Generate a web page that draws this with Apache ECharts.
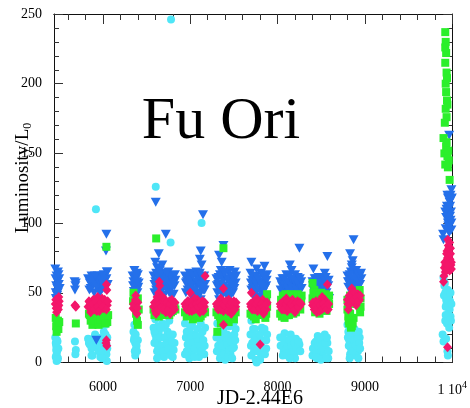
<!DOCTYPE html>
<html>
<head>
<meta charset="utf-8">
<script src="https://cdn.jsdelivr.net/npm/echarts@6/dist/echarts.min.js"></script>
<style>html,body{margin:0;padding:0;background:#fff;}#c{width:470px;height:408px;}</style>
</head>
<body>
<div id="c"></div>
<script>
// ---- data (JD-2.44E6, Luminosity/L0) ----
const blueTri = [
[5455,67],[5470,62],[5480,58],[5465,55],[5490,52],[5475,48],[5500,60],[5485,65],[5460,50],[5495,56],[5470,45],[5505,53],
[5458,60],[5478,53],[5492,63],[5462,46],[5483,50],
[5675,58],[5685,55],[5680,52],[5690,57],
[5830,60],[5850,57],[5870,62],[5860,53],[5880,55],[5900,50],[5920,58],[5940,62],[5955,55],[5970,60],[5985,52],[6000,57],[6010,63],[6025,55],[6040,60],[6050,65],[5890,61],[5965,50],[6040,92],[6035,80],[6045,65],[5925,16],
[5845,52],[5865,58],[5895,56],[5930,54],[5950,60],[5975,56],[5995,62],[6015,53],[6030,59],[6055,56],[5910,62],[5985,58],
[6340,62],[6350,58],[6360,66],[6370,55],[6380,60],[6390,52],[6400,63],[6410,57],[6365,48],[6395,50],[6385,64],
[6345,55],[6355,51],[6375,62],[6405,54],[6390,58],
[6605,115],[6720,92],[6640,78],[6600,72],[6620,68],[6680,70],[6650,66],
[6580,62],[6600,58],[6620,55],[6640,60],[6660,52],[6680,57],[6700,63],[6720,55],[6740,60],[6760,50],[6780,58],[6800,62],[6820,55],[6590,50],[6640,48],[6700,48],[6750,65],[6810,49],[6610,64],[6690,61],[6770,53],[6830,59],
[6590,56],[6610,52],[6630,62],[6650,58],[6670,55],[6690,53],[6710,58],[6730,52],[6750,56],[6770,62],[6790,54],[6810,57],[6825,63],[6660,64],[6730,64],[6790,48],
[7146,106],[7120,80],[7110,74],[7130,70],
[6940,62],[6960,58],[6980,55],[7000,61],[7020,52],[7040,57],[7060,63],[7080,55],[7100,60],[7120,50],[7140,58],[7160,62],[6950,50],[7010,48],[7070,65],[7150,52],[6990,64],[7090,49],[7170,56],[7120,45],
[6950,57],[6970,52],[6990,59],[7010,56],[7030,62],[7050,52],[7070,58],[7090,62],[7110,55],[7130,54],[7150,60],[7165,52],[7030,47],[7110,64],
[7380,84],[7330,77],[7360,72],
[7300,60],[7320,56],[7340,63],[7360,54],[7380,59],[7400,65],[7420,52],[7440,58],[7460,62],[7480,55],[7500,61],[7520,57],[7310,50],[7370,48],[7430,47],[7490,50],[7350,66],[7450,66],[7510,65],[7330,45],
[7305,55],[7325,61],[7345,52],[7365,60],[7385,55],[7405,50],[7425,60],[7445,53],[7465,56],[7485,61],[7505,53],[7525,62],[7390,64],[7470,49],
[7700,72],[7850,69],
[7690,64],[7710,59],[7730,55],[7750,62],[7770,52],[7790,57],[7810,64],[7830,50],[7850,60],[7870,55],[7880,63],[7720,48],[7760,67],[7800,47],[7840,58],[7700,52],[7860,46],
[7695,57],[7715,53],[7735,61],[7755,56],[7775,60],[7795,52],[7815,56],[7835,62],[7855,53],[7875,59],[7745,50],[7825,54],
[8250,82],[8140,70],[8160,66],
[8030,58],[8050,55],[8070,60],[8090,52],[8110,57],[8130,62],[8150,54],[8170,59],[8190,51],[8210,56],[8230,61],[8250,55],[8270,58],[8060,50],[8120,49],[8200,63],[8240,50],[8100,63],
[8035,52],[8055,60],[8075,55],[8095,58],[8115,53],[8135,56],[8155,60],[8175,53],[8195,58],[8215,52],[8235,56],[8255,60],[8275,53],[8140,50],
[8570,76],[8410,67],[8540,64],
[8400,58],[8420,54],[8440,60],[8460,51],[8480,56],[8500,59],[8520,53],[8540,57],[8560,50],[8580,55],[8430,48],[8490,47],[8550,61],[8590,46],[8410,52],[8470,61],
[8405,55],[8425,60],[8445,53],[8465,57],[8485,52],[8505,55],[8525,60],[8545,52],[8565,56],[8585,59],[8455,56],[8515,50],
[8870,88],[8830,78],[8860,73],[8850,70],
[8800,62],[8820,58],[8840,65],[8860,55],[8880,60],[8900,66],[8920,57],[8940,62],[8810,54],[8870,53],[8890,63],[8930,55],[8850,68],[8910,60],[8960,60],
[8805,58],[8825,63],[8845,56],[8865,60],[8885,56],[8905,58],[8925,63],[8945,56],[8955,64],[8835,55],[8895,54],
[9965,163],[9990,124],[9980,120],[9985,117],[9960,110],[9975,105],[9950,100],[9990,95],[9970,115],[9940,112],[9985,108],[9955,98],[9980,102],[9930,104],[9995,118],[9965,93],[9945,107],[9895,92],[9900,88],
[9925,96],[9935,110],[9950,118],[9960,104],[9970,98],[9975,112],[9990,100],[9945,120],[9920,108]
];
const redDia = [
[5460,45],[5475,42],[5490,38],[5470,36],[5500,44],[5485,40],[5465,39],[5495,47],
[5455,42],[5480,45],[5495,41],[5472,39],
[5680,41],[5690,40],
[5830,40],[5850,43],[5870,38],[5890,45],[5910,41],[5930,37],[5950,44],[5970,40],[5990,46],[6010,39],[6030,43],[6050,41],[5860,36],[5940,47],[6040,56],[6045,52],[6040,16],[6045,12],[6035,14],
[5840,44],[5860,40],[5880,42],[5900,38],[5920,44],[5940,40],[5960,37],[5980,43],[6000,40],[6020,45],[6040,38],[6055,44],
[6350,42],[6360,38],[6370,45],[6380,40],[6390,35],[6400,43],[6375,48],
[6345,39],[6365,41],[6385,44],[6395,39],
[6580,40],[6600,37],[6620,43],[6640,39],[6660,45],[6680,38],[6700,42],[6720,36],[6740,41],[6760,44],[6780,39],[6800,42],[6820,38],[6640,50],[6650,55],[6645,58],[6610,35],[6700,46],[6770,35],
[6590,43],[6610,41],[6630,38],[6650,42],[6670,40],[6690,44],[6710,39],[6730,43],[6750,38],[6770,42],[6790,45],[6810,40],[6825,43],[6620,47],[6680,47],
[6940,42],[6960,38],[6980,44],[7000,40],[7020,37],[7040,43],[7060,39],[7080,45],[7100,41],[7120,38],[7140,44],[7160,40],[7170,62],[7000,50],[7050,46],[7110,36],
[6950,40],[6970,44],[6990,37],[7010,43],[7030,41],[7050,38],[7070,42],[7090,40],[7110,43],[7130,41],[7150,37],[7165,43],
[7300,42],[7320,38],[7340,44],[7360,40],[7380,37],[7400,43],[7420,39],[7440,45],[7460,41],[7480,38],[7500,44],[7520,40],[7380,53],[7380,27],[7350,46],[7470,35],
[7310,40],[7330,43],[7350,38],[7370,42],[7390,41],[7410,44],[7430,37],[7450,41],[7470,43],[7490,40],[7510,38],[7525,43],
[7690,42],[7710,38],[7730,44],[7750,40],[7770,37],[7790,43],[7810,39],[7830,45],[7850,41],[7870,38],[7880,43],[7700,50],[7800,13],[7760,46],[7840,35],
[7695,40],[7715,43],[7735,38],[7755,42],[7775,44],[7795,39],[7815,42],[7835,40],[7855,38],[7875,42],
[8030,42],[8050,38],[8070,44],[8090,40],[8110,37],[8130,43],[8150,39],[8170,45],[8190,41],[8210,38],[8230,44],[8250,40],[8270,42],[8100,46],[8200,36],
[8035,40],[8055,43],[8075,38],[8095,42],[8115,44],[8135,39],[8155,42],[8175,40],[8195,38],[8215,43],[8235,40],[8255,43],
[8400,41],[8420,38],[8440,44],[8460,40],[8480,37],[8500,43],[8520,39],[8540,45],[8560,41],[8580,38],[8570,56],[8450,36],[8510,47],
[8405,43],[8425,40],[8445,38],[8465,43],[8485,41],[8505,38],[8525,42],[8545,40],[8565,38],[8585,42],
[8800,45],[8820,48],[8840,44],[8860,51],[8880,46],[8900,43],[8920,49],[8940,45],[8850,53],[8810,38],[8900,41],[8830,42],[8870,47],
[8805,42],[8825,45],[8845,48],[8865,45],[8885,50],[8905,47],[8925,44],[8945,48],
[9900,58],[9910,68],[9920,65],[9930,72],[9940,80],[9950,88],[9955,84],[9960,76],[9965,70],[9970,66],[9975,74],[9980,82],[9985,70],[9990,67],[9945,68],[9935,78],[9925,70],[9946,11],
[9905,62],[9915,72],[9930,66],[9945,75],[9960,82],[9970,86],[9980,78],[9990,72],[9950,70]
];
const greenSq = [
[5460,32],[5475,28],[5490,24],[5470,22],[5485,30],[5465,26],[5500,29],
[5690,28],
[5840,35],[5860,30],[5880,27],[5900,33],[5920,37],[5940,31],[5960,28],[5980,34],[6000,30],[6020,36],[6040,32],[6050,29],[5870,38],[6040,83],
[5850,34],[5890,30],[5930,34],[5950,27],[5970,31],[6010,33],[6030,28],[6060,34],
[6350,50],[6360,45],[6370,40],[6380,35],[6390,30],[6400,27],[6410,38],[6345,44],[6400,46],
[6580,38],[6600,36],[6700,35],[6800,37],[6820,40],[6610,89],[6640,33],[6760,34],
[6620,36],[6660,35],[6720,34],[6780,36],[6830,38],[6590,34],
[6940,36],[6980,34],[7060,33],[7100,32],[7140,35],[7160,38],[7030,31],
[6960,33],[7000,35],[7080,34],[7120,33],[7170,36],
[7300,36],[7340,33],[7380,82],[7400,31],[7440,29],[7480,33],[7520,36],[7310,22],[7360,30],[7460,34],
[7320,34],[7420,32],[7500,31],[7350,28],[7440,34],
[7690,35],[7730,33],[7770,36],[7810,34],[7850,40],[7870,45],[7880,49],[7860,32],[7750,31],
[7710,34],[7790,35],[7830,37],[7880,40],[7870,35],
[8030,35],[8060,48],[8100,47],[8150,49],[8200,48],[8240,47],[8270,44],[8050,33],[8130,34],[8210,36],[8260,38],[8080,32],
[8040,45],[8090,49],[8170,48],[8230,49],[8275,48],[8180,35],[8110,34],
[8400,57],[8420,52],[8400,46],[8450,50],[8500,50],[8550,49],[8590,48],[8430,36],[8480,35],[8560,37],
[8410,50],[8480,48],[8530,47],[8580,45],[8420,42],[8590,42],
[8800,38],[8810,33],[8820,28],[8830,35],[8850,26],[8870,32],[8900,42],[8930,48],[8940,52],[8920,46],[8800,45],[8950,40],
[8810,42],[8830,48],[8815,30],[8840,25],[8860,28],[8950,46],[8945,36],
[9920,237],[9925,230],[9930,222],[9920,215],[9935,208],[9925,200],[9940,204],[9920,226],[9930,194],[9940,188],[9925,182],[9935,176],[9915,172],[9945,185],[9900,161],[9910,150],[9930,155],[9945,148],[9960,145],[9950,140],[9920,142],[9970,131],[9935,158],[9955,152]
];
const cyanCirc = [
[5455,18],[5465,12],[5475,8],[5460,4],[5470,1],[5480,15],[5490,10],[5470,6],[5485,3],
[5460,14],[5475,16],[5465,9],[5480,2],
[5680,15],[5690,9],[5685,6],
[5830,17],[5850,13],[5870,10],[5890,16],[5910,20],[5930,12],[5950,8],[5970,4],[5990,14],[6010,22],[6030,27],[6050,18],[6040,6],[6045,1],[5920,110],[5960,29],[6000,10],[5880,5],
[5840,14],[5860,16],[5880,12],[5900,18],[5920,15],[5940,18],[5960,12],[5980,8],[6000,18],[6020,14],[6030,20],[6050,10],[6040,13],[5870,5],[5990,3],
[6350,22],[6360,18],[6370,14],[6380,10],[6390,8],[6360,27],[6400,16],[6370,5],
[6355,16],[6375,20],[6385,12],[6365,8],
[6780,246],[6605,126],[6775,86],[6580,25],[6600,20],[6620,15],[6640,10],[6660,5],[6680,18],[6700,12],[6720,8],[6740,22],[6760,16],[6780,10],[6800,4],[6820,14],[6600,31],[6680,28],[6760,30],[6620,8],[6700,25],[6800,20],[6640,22],
[6590,22],[6610,17],[6630,12],[6650,18],[6670,12],[6690,8],[6710,18],[6730,14],[6750,10],[6770,20],[6790,15],[6810,9],[6630,26],[6720,27],[6590,14],[6660,25],[6780,5],[6700,4],[6620,3],
[7130,100],[6940,28],[6960,22],[6980,17],[7000,12],[7020,7],[7040,20],[7060,14],[7080,9],[7100,4],[7120,18],[7140,11],[7160,6],[7170,25],[6960,8],[7000,25],[7080,24],[7140,22],[6990,3],
[6950,18],[6970,13],[6990,22],[7010,18],[7030,14],[7050,10],[7070,19],[7090,15],[7110,12],[7130,8],[7150,16],[7165,12],[6940,6],[7050,4],[7020,27],[7120,28],
[7300,18],[7320,12],[7340,7],[7360,22],[7380,15],[7400,9],[7420,20],[7440,14],[7460,6],[7480,19],[7500,11],[7520,24],[7310,28],[7450,26],[7340,3],[7400,2],[7500,29],
[7305,8],[7325,20],[7345,16],[7365,12],[7385,6],[7405,18],[7425,13],[7445,9],[7465,15],[7485,10],[7505,20],[7515,16],[7380,24],[7430,4],[7480,3],
[7700,30],[7690,20],[7710,14],[7730,8],[7750,2],[7770,18],[7790,12],[7810,6],[7830,22],[7850,16],[7870,10],[7880,20],[7720,24],[7760,0],[7820,25],[7700,5],
[7695,12],[7715,20],[7735,16],[7755,12],[7775,8],[7795,20],[7815,15],[7835,10],[7855,6],[7870,16],[7740,24],[7800,2],[7850,24],
[8030,18],[8050,12],[8070,8],[8090,15],[8110,5],[8130,10],[8150,20],[8170,14],[8190,6],[8210,17],[8230,9],[8250,13],[8080,21],[8200,3],[8120,16],
[8035,12],[8055,18],[8075,14],[8095,9],[8115,12],[8135,16],[8155,12],[8175,8],[8195,14],[8215,10],[8240,15],[8260,8],[8140,3],[8060,5],
[8400,5],[8420,10],[8440,15],[8460,19],[8480,12],[8500,6],[8520,16],[8540,20],[8560,9],[8580,3],[8450,3],[8530,8],[8570,14],
[8405,10],[8425,14],[8445,8],[8465,12],[8485,16],[8505,12],[8525,10],[8545,14],[8565,18],[8585,8],[8435,4],[8495,2],[8555,3],
[8800,27],[8810,22],[8820,16],[8840,10],[8860,20],[8880,24],[8900,14],[8920,8],[8940,18],[8830,6],[8890,5],[8930,22],[8850,15],
[8805,18],[8815,12],[8835,20],[8855,8],[8875,16],[8895,12],[8915,18],[8935,14],[8945,10],[8865,24],[8905,22],[8825,3],[8925,3],
[9900,61],[9910,55],[9920,50],[9930,45],[9940,40],[9950,52],[9960,47],[9970,38],[9980,33],[9920,30],[9940,28],[9955,35],[9965,25],[9935,42],[9975,44],[9985,30],[9890,20],[9900,15],[9930,17],[9945,8],[9950,5],[9915,57],
[9905,48],[9925,40],[9935,52],[9945,46],[9960,40],[9970,30],[9980,50],[9990,42],[9925,34],[9950,30]
];
const xMajorTicks = [6000,7000,8000,9000,10000];
const xMinorTicks = [5600,5800,6200,6400,6600,6800,7200,7400,7600,7800,8200,8400,8600,8800,9200,9400,9600,9800];
const xRange = [5440, 10000];
const yRange = [0, 250];

const FONT = '"Liberation Serif","DejaVu Serif",serif';
const AX = '#111';
function xAx(pos, ticks, len, labels) {
  return {
    type:'value', position:pos, min:xRange[0], max:xRange[1],
    axisLine:{show:true, onZero:false, lineStyle:{color:AX, width:1}},
    axisTick:{show:true, inside:true, length:len, customValues:ticks, lineStyle:{color:'#333', width:1}},
    axisLabel: labels ? {show:true, customValues:ticks, margin:18, fontFamily:FONT, fontSize:14, color:'#000',
      formatter:function(v){ return v===10000 ? '{a|1 10}{s|4}' : String(v); },
      rich:{a:{fontFamily:FONT, fontSize:14, color:'#000'}, s:{fontFamily:FONT, fontSize:10, color:'#000', padding:[0,0,9,0]}}
    } : {show:false},
    splitLine:{show:false}
  };
}
function yAx(pos, labels) {
  return {
    type:'value', position:pos, min:yRange[0], max:yRange[1], interval:50,
    axisLine:{show:true, onZero:false, lineStyle:{color:AX, width:1}},
    axisTick:{show:true, inside:true, length:9, lineStyle:{color:'#333'}},
    minorTick:{show:true, splitNumber:5, length:5, lineStyle:{color:'#333'}},
    axisLabel: labels ? {show:true, margin:12, fontFamily:FONT, fontSize:14, color:'#000'} : {show:false},
    splitLine:{show:false}, minorSplitLine:{show:false}
  };
}
const chart = echarts.init(document.getElementById('c'), null, {renderer:'canvas'});
chart.setOption({
  animation:false,
  backgroundColor:'#fff',
  grid:{left:54, right:14, top:14, height:348.5, containLabel:false},
  xAxis:[xAx('bottom', xMajorTicks, 10, true), xAx('bottom', xMinorTicks, 6, false), xAx('top', xMajorTicks, 10, false), xAx('top', xMinorTicks, 6, false)],
  yAxis:[yAx('left', true), yAx('right', false)],
  series:[
    {type:'scatter', name:'cyan', data:cyanCirc, symbol:'circle', symbolSize:8, itemStyle:{color:'#4fe6f7', opacity:1}, z:2},
    {type:'scatter', name:'blue', data:blueTri, symbol:'triangle', symbolRotate:180, symbolSize:[10,9], itemStyle:{color:'#2470ea', opacity:1}, z:3},
    {type:'scatter', name:'green', data:greenSq, symbol:'rect', symbolSize:8, itemStyle:{color:'#2bef2b', opacity:1}, z:4},
    {type:'scatter', name:'red', data:redDia, symbol:'diamond', symbolSize:[9,10], itemStyle:{color:'#f3166a', opacity:1}, z:5}
  ],
  graphic:[
    {type:'text', x:221, y:122, style:{text:'Fu Ori', font:'60px "Liberation Serif", serif', fill:'#000', align:'center', verticalAlign:'middle'}, z:10},
    {type:'text', x:260, y:399, style:{text:'JD-2.44E6', font:'20px "Liberation Serif", serif', fill:'#000', align:'center', verticalAlign:'middle'}, z:10},
    {type:'text', x:23, y:178, rotation:Math.PI/2, style:{text:'{a|Luminosity/L}{b|0}', align:'center', verticalAlign:'middle',
      rich:{a:{fontFamily:FONT, fontSize:19, color:'#000', lineHeight:22}, b:{fontFamily:FONT, fontSize:12, color:'#000', padding:[10,0,0,0]}}}, z:10}
  ]
});
</script>
</body>
</html>
